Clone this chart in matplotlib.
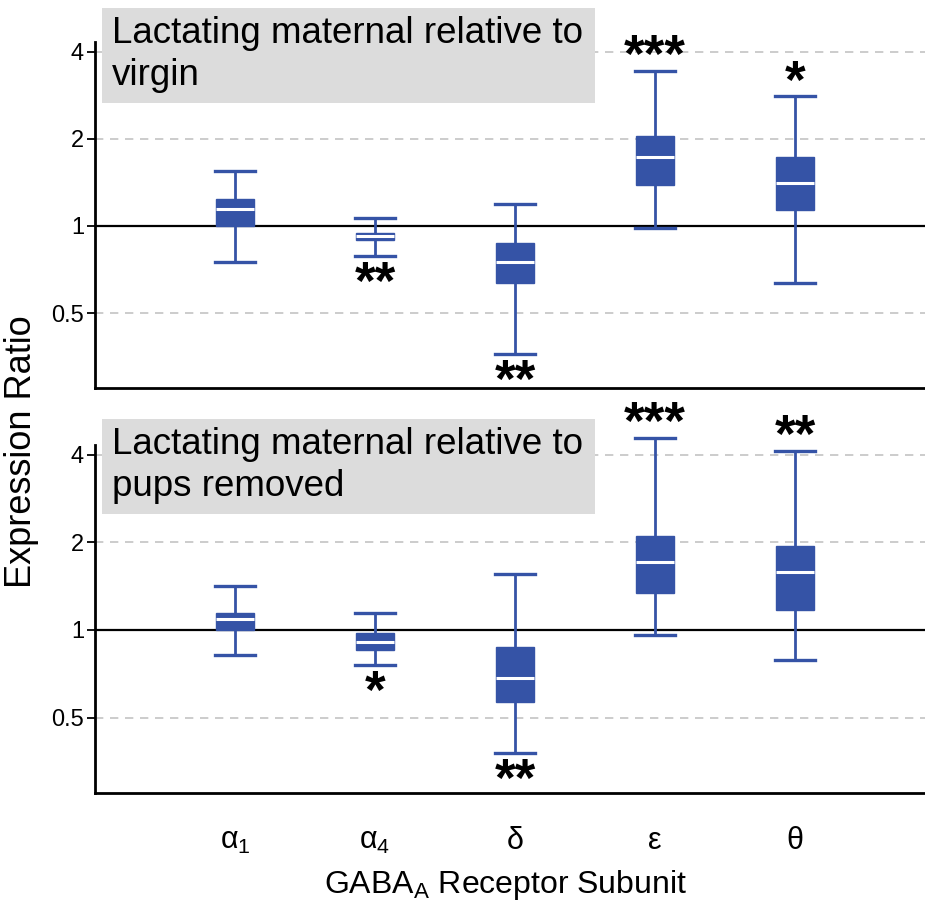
import numpy as np
import matplotlib.pyplot as plt
from matplotlib.patches import Rectangle

plt.rcParams['font.family'] = ['Liberation Sans', 'DejaVu Sans']
plt.rcParams['mathtext.default'] = 'regular'

subunits = ['α$_1$', 'α$_4$', 'δ', 'ε', 'θ']

# lactating maternal relative to virgin
v_lo = [0.75, 0.79, 0.362, 0.98, 0.636]
v_q1 = [1.00, 0.895, 0.635, 1.38, 1.135]
v_med = [1.14, 0.924, 0.75, 1.73, 1.41]
v_q3 = [1.24, 0.948, 0.872, 2.04, 1.73]
v_hi = [1.55, 1.065, 1.19, 3.44, 2.80]
v_sig = ['', '**', '**', '***', '*']

# lactating maternal relative to pups removed
p_lo = [0.82, 0.758, 0.379, 0.959, 0.79]
p_q1 = [1.00, 0.853, 0.567, 1.34, 1.17]
p_med = [1.094, 0.909, 0.682, 1.71, 1.58]
p_q3 = [1.147, 0.974, 0.876, 2.105, 1.95]
p_hi = [1.42, 1.14, 1.558, 4.57, 4.13]
p_sig = ['', '*', '**', '***', '**']

yticks = [0.5, 1, 2, 4]
ytick_labels = ['0.5', '1', '2', '4']

blue = '#3553a6'
W, H = 925, 911
fig = plt.figure(figsize=(W / 100, H / 100), dpi=100)


def fx(px):
    return px / W


def fy(py):
    return 1 - py / H


def panel(top, bottom, lo, q1, med, q3, hi, sig, title, box_top):
    ax = fig.add_axes([fx(95), fy(bottom), 1 - fx(95), fy(top) - fy(bottom)])
    stats = []
    for i in range(len(subunits)):
        stats.append(dict(whislo=lo[i], q1=q1[i], med=med[i], q3=q3[i],
                          whishi=hi[i], fliers=[]))
    parts = ax.bxp(stats, positions=range(len(subunits)), widths=0.27,
                   patch_artist=True, showfliers=False, capwidths=0.29,
                   boxprops=dict(facecolor=blue, edgecolor=blue, linewidth=1),
                   medianprops=dict(color='white', linewidth=2.2),
                   whiskerprops=dict(color=blue, linewidth=2),
                   capprops=dict(color=blue, linewidth=2.4),
                   zorder=3)
    for key in parts:
        for art in parts[key]:
            art.set_clip_on(False)
    ax.set_yscale('log', base=2)
    ax.set_ylim(2 ** -1.86, 2 ** 2.11)
    ax.set_xlim(-1, -1 + (W - 95) / 140)
    for t in [0.5, 2, 4]:
        ax.axhline(t, color='#c4c4c4', lw=1.2, ls=(0, (5, 4)), zorder=1)
    ax.axhline(1, color='black', lw=1.6, zorder=2)
    ax.set_yticks(yticks)
    ax.set_yticklabels(ytick_labels)
    ax.yaxis.set_minor_locator(plt.NullLocator())
    ax.tick_params(axis='y', length=6, width=1.3, labelsize=17, pad=2)
    for s in ['top', 'right']:
        ax.spines[s].set_visible(False)
    for s in ['left', 'bottom']:
        ax.spines[s].set_linewidth(2)
    # significance stars
    for i, s in enumerate(sig):
        if not s:
            continue
        if med[i] > 1:
            ax.annotate(s, (i, hi[i]), xytext=(0, -1), textcoords='offset points',
                        ha='center', va='baseline', fontsize=38, fontweight='bold',
                        annotation_clip=False)
        else:
            ax.annotate(s, (i, lo[i]), xytext=(0, -31), textcoords='offset points',
                        ha='center', va='baseline', fontsize=38, fontweight='bold',
                        annotation_clip=False)
    # grey title box
    fig.add_artist(Rectangle((fx(102), fy(box_top + 95)), fx(595) - fx(102),
                             fy(box_top) - fy(box_top + 95), transform=fig.transFigure,
                             facecolor='#dcdcdc', edgecolor='none', zorder=5))
    fig.text(fx(112), fy(box_top + 8), title, fontsize=26.5, va='top', ha='left',
             linespacing=1.25, zorder=6)
    return ax


ax1 = panel(42, 388, v_lo, v_q1, v_med, v_q3, v_hi, v_sig,
            'Lactating maternal relative to\nvirgin', 8)
ax1.set_xticks([])

ax2 = panel(445, 793, p_lo, p_q1, p_med, p_q3, p_hi, p_sig,
            'Lactating maternal relative to\npups removed', 419)
ax2.set_xticks(range(len(subunits)))
ax2.set_xticklabels(subunits)
ax2.tick_params(axis='x', length=0, labelsize=22, pad=24)

fig.text(fx(22), fy(452), 'Expression Ratio', rotation=90, fontsize=26,
         ha='center', va='center')
fig.text(fx(505), fy(885), 'GABA$_A$ Receptor Subunit', fontsize=23,
         ha='center', va='center')

fig.savefig('out.png', dpi=100)
